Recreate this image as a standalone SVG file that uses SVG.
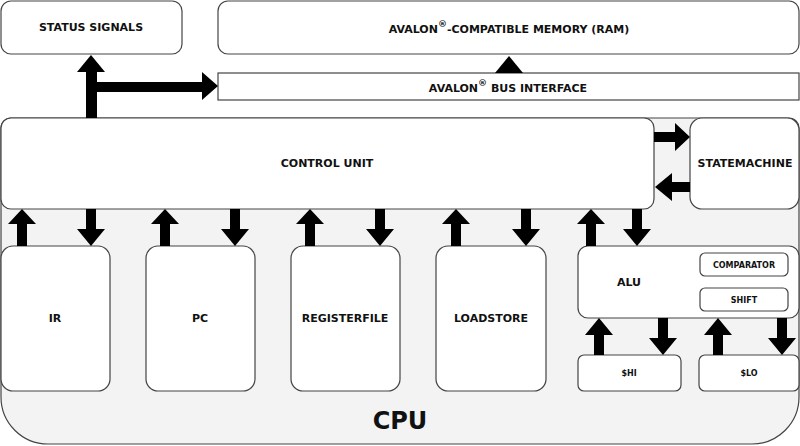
<svg xmlns="http://www.w3.org/2000/svg" width="800" height="446" viewBox="0 0 800 446">
<style>
.box{fill:#fff;stroke:#444;stroke-width:1.2}
.t{font-family:"DejaVu Sans","Liberation Sans",sans-serif;font-weight:bold;font-size:11px;fill:#111;text-anchor:middle;dominant-baseline:central}
.s{font-size:8px}
.arr{fill:#000}
</style>
<rect width="800" height="446" fill="#fff"/>
<g id="cpu">
<path d="M10,118 H789 A10,10 0 0 1 799,128 V397 A47,47 0 0 1 752,444 H48 A47,47 0 0 1 1,397 V128 A10,10 0 0 1 10,118 Z" fill="#f3f3f3" stroke="#444" stroke-width="1.2"/>
<text class="t" x="400" y="421" style="font-size:24px">CPU</text>
</g>
<g id="status"><rect class="box" x="1" y="1" width="181" height="53" rx="10"/><text class="t" x="91" y="27">STATUS SIGNALS</text></g>
<g id="memory"><rect class="box" x="218" y="1" width="581" height="53" rx="10"/><text class="t" x="509" y="29">AVALON<tspan baseline-shift="super" font-size="9">®</tspan>-COMPATIBLE MEMORY (RAM)</text></g>
<g id="bus"><rect class="box" x="218" y="73" width="581" height="27"/><text class="t" x="508" y="88">AVALON<tspan baseline-shift="super" font-size="9">®</tspan> BUS INTERFACE</text></g>
<g id="control"><rect class="box" x="1" y="118" width="653" height="91" rx="10"/><text class="t" x="327" y="163">CONTROL UNIT</text></g>
<g id="statemachine"><rect class="box" x="690" y="118" width="109" height="91" rx="12"/><text class="t" x="745" y="163">STATEMACHINE</text></g>
<g id="ir"><rect class="box" x="1" y="246" width="109" height="145" rx="12"/><text class="t" x="55" y="318">IR</text></g>
<g id="pc"><rect class="box" x="146" y="246" width="109" height="145" rx="12"/><text class="t" x="200" y="318">PC</text></g>
<g id="registerfile"><rect class="box" x="291" y="246" width="109" height="145" rx="12"/><text class="t" x="345" y="318">REGISTERFILE</text></g>
<g id="loadstore"><rect class="box" x="436" y="246" width="110" height="145" rx="12"/><text class="t" x="491" y="318">LOADSTORE</text></g>
<g id="alu"><rect class="box" x="578" y="246" width="221" height="72" rx="10"/><text class="t" x="629" y="282">ALU</text></g>
<g id="comparator"><rect class="box" x="700" y="253" width="88" height="23" rx="5"/><text class="t s" x="744" y="265">COMPARATOR</text></g>
<g id="shift"><rect class="box" x="700" y="288" width="88" height="23" rx="5"/><text class="t s" x="744" y="300">SHIFT</text></g>
<g id="hi"><rect class="box" x="578" y="355" width="103" height="36" rx="6"/><text class="t s" x="629" y="373">$HI</text></g>
<g id="lo"><rect class="box" x="699" y="355" width="100" height="36" rx="6"/><text class="t s" x="749" y="373">$LO</text></g>
<g id="connectors" class="arr">
<polygon points="91,55 105,72 97,72 97,82 202,82 202,72 218,86 202,100 202,92 97,92 97,118 86,118 86,72 77,72"/>
<polygon points="495,73 509,56 523,73"/>
<polygon points="654,132 675,132 675,123 690,137 675,151 675,142 654,142"/>
<polygon points="690,182 672,182 672,173 655,187 672,201 672,192 690,192"/>
<!-- up arrows CU -->
<polygon points="22,209 36,224 27,224 27,246 17,246 17,224 8,224"/>
<polygon points="165,209 179,224 170,224 170,246 160,246 160,224 151,224"/>
<polygon points="310,209 324,224 315,224 315,246 305,246 305,224 296,224"/>
<polygon points="456,209 470,224 461,224 461,246 451,246 451,224 442,224"/>
<polygon points="591,209 605,224 596,224 596,246 586,246 586,224 577,224"/>
<!-- down arrows CU -->
<polygon points="86,209 96,209 96,229 105,229 91,246 77,229 86,229"/>
<polygon points="230,209 240,209 240,229 249,229 235,246 221,229 230,229"/>
<polygon points="375,209 385,209 385,229 394,229 380,246 366,229 375,229"/>
<polygon points="521,209 531,209 531,229 540,229 526,246 512,229 521,229"/>
<polygon points="632,209 642,209 642,229 651,229 637,246 623,229 632,229"/>
<!-- ALU / HI LO -->
<polygon points="599,318 613,335 604,335 604,355 594,355 594,335 585,335"/>
<polygon points="718,318 732,335 723,335 723,355 713,355 713,335 704,335"/>
<polygon points="658,318 668,318 668,338 677,338 663,355 649,338 658,338"/>
<polygon points="777,318 787,318 787,338 796,338 782,355 768,338 777,338"/>
</g>
</svg>
